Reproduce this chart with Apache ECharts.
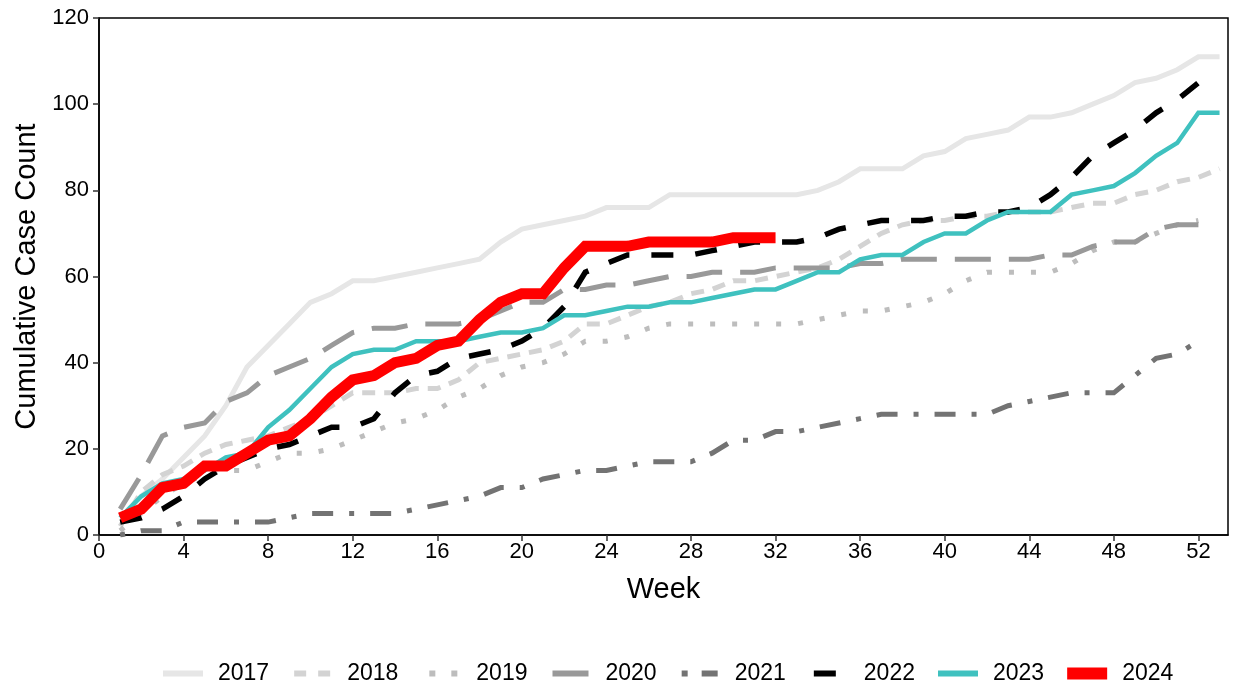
<!DOCTYPE html>
<html>
<head>
<meta charset="utf-8">
<script src="https://cdn.jsdelivr.net/npm/echarts@6/dist/echarts.min.js"></script>
<style>
html,body{margin:0;padding:0;background:#fff;}
#chart{width:1236px;height:688px;}
</style>
</head>
<body>
<div id="chart"></div>
<script>
const weeks = Array.from({length: 53}, (_, i) => i + 1);
const xTicks = [0, 4, 8, 12, 16, 20, 24, 28, 32, 36, 40, 44, 48, 52];
const yTicks = [0, 20, 40, 60, 80, 100, 120];
const years = ['2017', '2018', '2019', '2020', '2021', '2022', '2023', '2024'];

const y2017 = [4, 9, 13, 18, 23, 30, 39, 44, 49, 54, 56, 59, 59, 60, 61, 62, 63, 64, 68, 71, 72, 73, 74, 76, 76, 76, 79, 79, 79, 79, 79, 79, 79, 80, 82, 85, 85, 85, 88, 89, 92, 93, 94, 97, 97, 98, 100, 102, 105, 106, 108, 111, 111];
const y2018 = [2, 10, 14, 16, 19, 21, 22, 23, 25, 27, 30, 33, 33, 33, 34, 34, 36, 40, 41, 42, 43, 45, 49, 49, 51, 53, 54, 56, 57, 59, 59, 60, 61, 62, 64, 67, 70, 72, 73, 73, 74, 74, 75, 75, 75, 76, 77, 77, 79, 80, 82, 83, 85];
const y2019 = [1, 5, 9, 12, 14, 15, 15, 17, 19, 19, 20, 22, 24, 26, 27, 29, 32, 34, 37, 39, 40, 42, 45, 45, 46, 48, 49, 49, 49, 49, 49, 49, 49, 50, 51, 52, 52, 53, 54, 56, 59, 61, 61, 61, 61, 63, 66, 68, 68, 70, 72, 73];
const y2020 = [6, 14, 23, 25, 26, 31, 33, 37, 39, 41, 44, 47, 48, 48, 49, 49, 49, 50, 52, 54, 54, 57, 57, 58, 58, 59, 60, 60, 61, 61, 61, 62, 62, 62, 62, 63, 63, 64, 64, 64, 64, 64, 64, 64, 65, 65, 67, 68, 68, 71, 72, 72];
const y2021 = [0, 1, 1, 3, 3, 3, 3, 3, 4, 5, 5, 5, 5, 5, 6, 7, 8, 9, 11, 11, 13, 14, 15, 15, 16, 17, 17, 17, 19, 22, 22, 24, 24, 25, 26, 27, 28, 28, 28, 28, 28, 28, 30, 31, 32, 33, 33, 33, 37, 41, 42, 45];
const y2022 = [3, 4, 6, 9, 13, 16, 18, 20, 21, 23, 25, 25, 27, 33, 37, 38, 41, 42, 43, 45, 48, 53, 61, 63, 65, 65, 65, 65, 66, 67, 68, 68, 68, 69, 71, 72, 73, 73, 73, 74, 74, 75, 75, 76, 79, 83, 88, 91, 94, 98, 101, 105];
const y2023 = [4, 9, 12, 13, 15, 18, 19, 25, 29, 34, 39, 42, 43, 43, 45, 45, 45, 46, 47, 47, 48, 51, 51, 52, 53, 53, 54, 54, 55, 56, 57, 57, 59, 61, 61, 64, 65, 65, 68, 70, 70, 73, 75, 75, 75, 79, 80, 81, 84, 88, 91, 98, 98];
const y2024 = [4, 6, 11, 12, 16, 16, 19, 22, 23, 27, 32, 36, 37, 40, 41, 44, 45, 50, 54, 56, 56, 62, 67, 67, 67, 68, 68, 68, 68, 69, 69, 69];

const values = [y2017, y2018, y2019, y2020, y2021, y2022, y2023, y2024];
const styles = [
  {color: '#e6e6e6', width: 5, type: 'solid'},
  {color: '#d3d3d3', width: 5, type: [13, 9]},
  {color: '#bdbdbd', width: 5, type: [5, 17]},
  {color: '#999999', width: 5, type: [36, 18]},
  {color: '#737373', width: 5, type: [5, 16, 21, 16]},
  {color: '#000000', width: 5.5, type: [22, 22]},
  {color: '#3fc1bf', width: 4.5, type: 'solid'},
  {color: '#ff0000', width: 11, type: 'solid'}
];
// legend key shapes in a 40x14 box (corner specks fix the bounding box)
const box = 'M0,0h0.01v0.01h-0.01z M40,14h-0.01v-0.01h0.01z ';
const legendKeys = [
  'M0,4h40v6h-40z',
  'M2,4h12v6h-12z M26,4h12v6h-12z',
  'M8,4h6v6h-6z M30,4h6v6h-6z',
  'M2,4h36v6h-36z',
  'M2,4h6v6h-6z M22,4h16v6h-16z',
  'M5,4h22v6h-22z',
  'M0,4h40v6h-40z',
  'M0,1h40v12h-40z'
];

const series = years.map((yr, i) => ({
  name: yr,
  type: 'line',
  showSymbol: false,
  symbol: 'none',
  animation: false,
  lineStyle: {color: styles[i].color, width: styles[i].width, type: styles[i].type, cap: 'butt', join: 'miter'},
  itemStyle: {color: styles[i].color, borderWidth: 0},
  data: values[i].map((v, j) => [weeks[j], v]),
  z: 2 + i
}));

const chart = echarts.init(document.getElementById('chart'), null, {renderer: 'canvas'});
const FONT = 'Liberation Sans, Arial, sans-serif';
chart.setOption({
  backgroundColor: '#fff',
  animation: false,
  grid: {left: 99, right: 8, top: 18, bottom: 153, show: true, borderColor: '#000', borderWidth: 1.5, backgroundColor: 'transparent'},
  xAxis: {
    type: 'value', min: 0, max: 53.4, interval: 4,
    name: 'Week', nameLocation: 'middle', nameGap: 40,
    nameTextStyle: {fontFamily: FONT, fontSize: 29, color: '#000'},
    axisLine: {show: true, lineStyle: {color: '#000', width: 1.5}},
    axisTick: {show: true, length: 6, lineStyle: {color: '#333', width: 1.5}, customValues: xTicks},
    axisLabel: {fontFamily: FONT, fontSize: 22, color: '#000', margin: 6, customValues: xTicks},
    splitLine: {show: false}
  },
  yAxis: {
    type: 'value', min: 0, max: 120, interval: 20,
    name: 'Cumulative Case Count', nameLocation: 'middle', nameGap: 57,
    nameTextStyle: {fontFamily: FONT, fontSize: 29, color: '#000'},
    axisLine: {show: true, lineStyle: {color: '#000', width: 1.5}},
    axisTick: {show: true, length: 6, lineStyle: {color: '#333', width: 1.5}},
    axisLabel: {fontFamily: FONT, fontSize: 22, color: '#000', margin: 10,
      formatter: v => yTicks.includes(v) ? String(v) : ''},
    splitLine: {show: false}
  },
  legend: {
    data: years.map((yr, i) => ({name: yr, icon: 'path://' + box + legendKeys[i]})),
    left: 158, top: 657,
    itemWidth: 40, itemHeight: 14, itemGap: 23,
    itemStyle: {borderWidth: 0},
    textStyle: {fontFamily: FONT, fontSize: 23, color: '#000', padding: [0, 0, 0, 10]}
  },
  series: series
});
</script>
</body>
</html>
